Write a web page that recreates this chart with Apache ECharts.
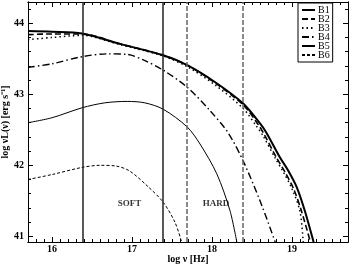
<!DOCTYPE html>
<html><head><meta charset="utf-8">
<script src="https://cdn.jsdelivr.net/npm/echarts@6/dist/echarts.min.js"></script>
<style>html,body{margin:0;padding:0;background:#fff}#c{width:350px;height:264px}</style>
</head><body><div id="c"></div>
<script>
const names = ['B1','B2','B3','B4','B5','B6'];
const B1 = [[15.7,43.89],[16.0,43.88],[16.375,43.855],[16.85,43.71],[17.39,43.55],[17.69,43.41],[18.04,43.17],[18.39,42.87],[18.6,42.59],[18.68,42.46],[18.85,42.11],[18.95,41.93],[19.06,41.69],[19.16,41.36],[19.27,40.92]];
const B2 = [[15.7,43.84],[16.0,43.85],[16.375,43.85],[16.85,43.71],[17.39,43.55],[17.69,43.41],[18.04,43.16],[18.39,42.85],[18.58,42.57],[18.65,42.44],[18.81,42.10],[18.91,41.91],[19.02,41.67],[19.12,41.35],[19.23,40.92]];
const B3 = [[15.7,43.77],[16.0,43.80],[16.375,43.83],[16.85,43.70],[17.39,43.54],[17.69,43.39],[18.04,43.13],[18.39,42.80],[18.55,42.56],[18.63,42.43],[18.79,42.10],[18.89,41.91],[19.0,41.67],[19.1,41.35],[19.14,40.92]];
const B4 = [[15.7,43.38],[16.0,43.43],[16.375,43.53],[16.7,43.57],[16.95,43.56],[17.15,43.48],[17.39,43.34],[17.69,43.10],[17.975,42.77],[18.2,42.46],[18.39,42.06],[18.6,41.50],[18.79,40.92]];
const B5 = [[15.7,42.60],[16.0,42.67],[16.375,42.81],[16.66,42.88],[16.94,42.90],[17.16,42.88],[17.39,42.79],[17.69,42.54],[17.85,42.30],[18.06,41.88],[18.225,41.36],[18.31,40.92]];
const B6 = [[15.7,41.80],[16.0,41.87],[16.375,41.97],[16.6,42.0],[16.8,41.99],[16.97,41.92],[17.2,41.70],[17.39,41.48],[17.54,41.19],[17.62,40.92]];
const softBand = [16.38, 17.38];
const hardBand = [17.68, 18.38];
const bandLabels = [['SOFT',16.97,41.46],['HARD',18.05,41.46]];
const xTicks = [16,17,18,19];
const yTicks = [41,42,43,44];
const xMinor = [], yMinor = [];
for (let i=157;i<=197;i++){ if(i%10) xMinor.push(i/10); }
for (let i=205;i<=221;i++){ if(i%5) yMinor.push(i/5); }

const FONT = 'Liberation Serif';
const X = [15.7,19.7], Y = [40.92,44.3];
function xa(pos, ticks, len, labels){
  return {type:'value', position:pos, min:X[0], max:X[1],
    axisLine:{show:true,onZero:false,lineStyle:{color:'#000',width:1}},
    axisTick:{show:true,inside:true,length:len,customValues:ticks,lineStyle:{color:'#000',width:1}},
    axisLabel:{show:labels,customValues:ticks,margin:2,fontFamily:FONT,fontWeight:'bold',fontSize:10,color:'#000'},
    splitLine:{show:false}};
}
function ya(pos, ticks, len, labels){
  return {type:'value', position:pos, min:Y[0], max:Y[1],
    axisLine:{show:true,onZero:false,lineStyle:{color:'#000',width:1}},
    axisTick:{show:true,inside:true,length:len,customValues:ticks,lineStyle:{color:'#000',width:1}},
    axisLabel:{show:labels,customValues:ticks,margin:4,fontFamily:FONT,fontWeight:'bold',fontSize:10,color:'#000'},
    splitLine:{show:false}};
}
const xAxes = [xa('bottom',xTicks,5,true), xa('bottom',xMinor,3,false), xa('top',xTicks,5,false), xa('top',xMinor,3,false)];
Object.assign(xAxes[0], {name:'log ν [Hz]', nameLocation:'middle', nameGap:12, nameMoveOverlap:false,
  nameTextStyle:{fontFamily:FONT,fontWeight:'bold',fontSize:10,color:'#000'}});
const yAxes = [ya('left',yTicks,5,true), ya('left',yMinor,3,false), ya('right',yTicks,5,false), ya('right',yMinor,3,false)];
Object.assign(yAxes[0], {name:'log νL(ν) [erg s⁻¹]', nameLocation:'middle', nameGap:18, nameMoveOverlap:false,
  nameTextStyle:{fontFamily:FONT,fontWeight:'bold',fontSize:10,color:'#000'}});

const styles = [
  {width:2, type:'solid'},
  {width:1.6, type:[6,3]},
  {width:1.5, type:[1.5,3]},
  {width:1.4, type:[7,3,1.5,3]},
  {width:1, type:'solid'},
  {width:1, type:[3,2]}
];
const datas = [B1,B2,B3,B4,B5,B6];
const series = datas.map((d,i)=>({
  name:names[i], type:'line', data:d, symbol:'none', smooth:0.3, clip:true,
  lineStyle:Object.assign({color:'#000'},styles[i]), itemStyle:{color:'#000'}, z:3
}));
series.push({
  type:'line', data:[], symbol:'none', silent:true,
  markLine:{symbol:'none', silent:true, label:{show:false},
    data:[
      ...softBand.map(v=>({xAxis:v, lineStyle:{color:'#222',width:1.5,type:'solid'}})),
      ...hardBand.map(v=>({xAxis:v, lineStyle:{color:'#666',width:1.5,type:[5,2]}}))
    ]}
});
series.push({
  type:'scatter', symbolSize:0, silent:true,
  data:bandLabels.map(b=>({value:[b[1],b[2]], name:b[0]})),
  label:{show:true, position:'inside', formatter:p=>p.name, fontFamily:FONT, fontWeight:'bold', fontSize:9, color:'#000'}
});

const chart = echarts.init(document.getElementById('c'), null, {renderer:'canvas'});
chart.setOption({
  animation:false,
  backgroundColor:'#fff',
  grid:{left:28, right:2, top:2, bottom:22, containLabel:false, outerBoundsMode:'none'},
  xAxis:xAxes, yAxis:yAxes,
  legend:{data:names, orient:'vertical', left:298, top:3, itemWidth:13, itemHeight:8, itemGap:-1,
    padding:[2,3,2,3], borderColor:'#000', borderWidth:1, backgroundColor:'#fff',
    itemStyle:{opacity:0},
    textStyle:{fontFamily:FONT, fontSize:10, color:'#000', lineHeight:8, padding:[0,0,0,-2]}},
  series:series
});
</script></body></html>
